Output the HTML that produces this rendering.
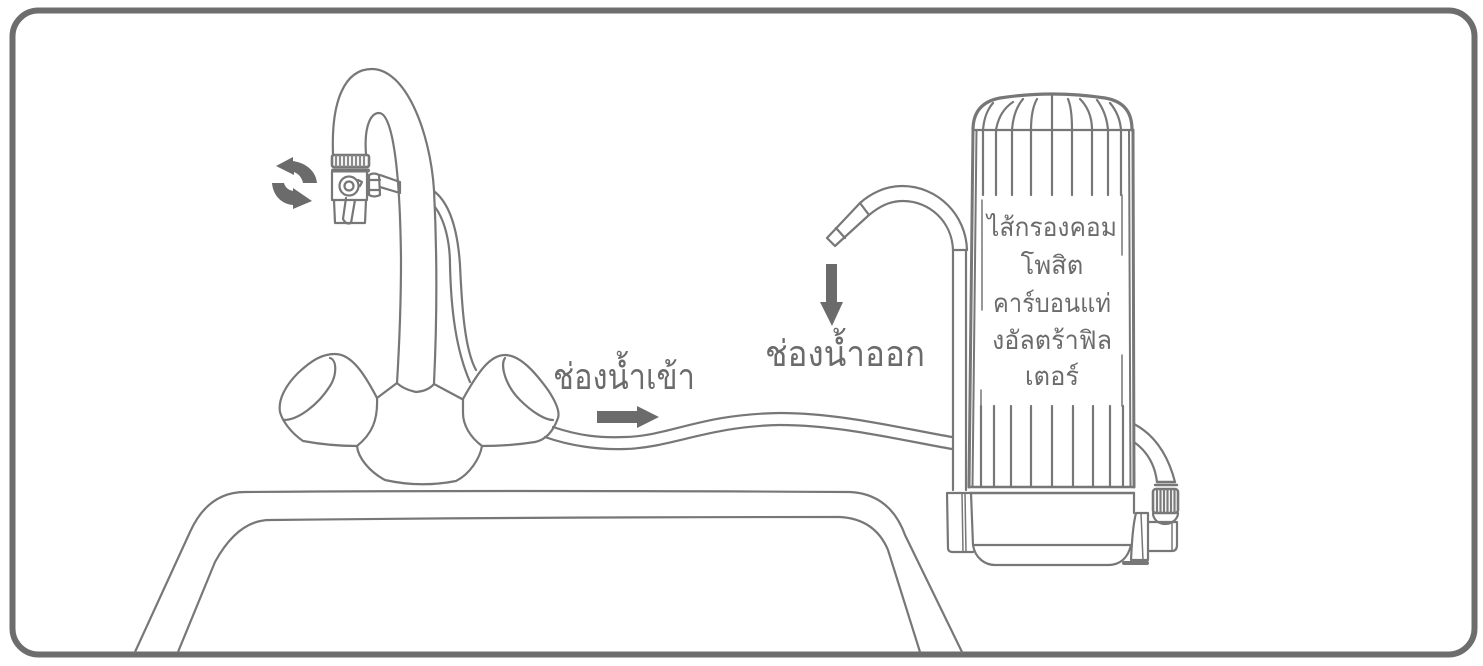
<!DOCTYPE html>
<html>
<head>
<meta charset="utf-8">
<style>
html,body{margin:0;padding:0;background:#fff;width:1483px;height:666px;overflow:hidden}
svg{display:block}
text{font-family:"Liberation Sans","Noto Sans CJK SC",sans-serif;fill:#6b6b6b;text-anchor:middle}
</style>
</head>
<body>
<svg width="1483" height="666" viewBox="0 0 1483 666" xmlns="http://www.w3.org/2000/svg">
<rect x="12.5" y="10.5" width="1462" height="644" rx="26" fill="#fff" stroke="#6d6d6d" stroke-width="6"/>
<g fill="none" stroke="#777" stroke-width="2.2" stroke-linejoin="round" stroke-linecap="round">
<!-- sink -->
<path d="M135 652L190 532Q208 492 245 492Q500 490 850 492Q890 494 905 535L962 652"/>
<path d="M178 652L215 562Q238 520 270 520Q550 517 840 517Q875 519 888 550L920 652"/>
<!-- hoses behind faucet -->
<path d="M435 192C452 206 458 235 460 265C462 310 465 350 476 370" />
<path d="M435 207C446 222 450 245 450 265C451 310 456 350 470 382"/>
<!-- faucet -->
<path d="M333 154C331 100 345 69 372 69C405 69 430 130 434 190C437 250 437 320 434 383"/>
<path d="M366 154C364 128 370 113 379 113C392 113 400 165 401 260C401 310 399 350 397 383"/>
<path d="M397 383Q403 389 416 392Q428 391 434 384L462 399"/>
<path d="M397 383L377 398"/>
<path d="M357 446C358 458 370 472 385 480Q420 488 456 481C470 474 480 458 482 446"/>
<!-- left knob -->
<path fill="#fff" d="M377 398C365 375 352 354 335 354C322 354 312 360 298 373C285 386 278 400 280 412C282 420 290 432 303 441Q330 446 357 446C372 434 378 420 377 398Z"/>
<path d="M330 358C337 360 337 375 330 386C318 405 298 420 284 420"/>
<!-- right knob -->
<path fill="#fff" d="M463 399C478 372 490 355 505 355C520 355 535 372 548 390C556 402 560 412 558 418C553 432 545 440 535 442Q510 446 482 446C470 437 463 425 463 413Z"/>
<path d="M505 358C500 365 505 385 520 400C532 412 545 420 553 420"/>
<!-- inlet hose -->
<path d="M553 427C580 436 600 438 625 437C670 436 700 414 780 413C840 413 900 428 952 437"/>
<path d="M545 437C570 446 600 450 625 449C670 448 710 426 780 425C840 425 900 440 952 449"/>
<!-- valve -->
<rect x="332" y="155" width="37" height="12" rx="2" stroke-width="2.6"/>
<path d="M336 156V166M340 156V166M344 156V166M348 156V166M352 156V166M356 156V166M360 156V166M364 156V166" stroke="#8a8a8a" stroke-width="2.2"/>
<path d="M333 170.5H368" stroke-width="4"/>
<path d="M332 172V200H367V172M332 200H367"/>
<path d="M334 200L335 223H365L366 200"/>
<circle cx="349" cy="186" r="9.5"/>
<circle cx="349" cy="186" r="4.5"/>
<path d="M358 180L362 182L360 186"/>
<path d="M346 198L343 219Q346 225 351 223L355 200"/>
<path d="M369 175Q374 172 379 175L380 195Q374 198 369 195ZM369 180H380M369 190H380"/>
<path d="M380 175L400 182V193L380 187"/>
<!-- filter spout -->
<path d="M967 250C966 215 938 186 902 186C885 186 870 194 860 203L827 238L835 246L869 215C880 206 890 201 903 201C930 201 952 222 953 250"/>
<path d="M860 203L869 215M836 228L845 238M953 250H967"/>
<path d="M953 250V490M966 250V490"/>
<!-- filter dome -->
<path d="M973 130C973 110 984 101 1000 98Q1052 90 1105 98C1122 101 1132 110 1132 130" stroke-width="3.2"/>
<path d="M973 130H1132"/>
<path d="M983 130C984 118 987 110 993 103M996 130C998 118 1004 108 1013 102M1012 130C1013 116 1017 106 1023 99M1031 130C1031 116 1033 106 1037 99M1052 130V95M1072 130C1072 116 1071 106 1068 99M1092 130C1092 116 1087 106 1080 99M1108 130C1107 118 1103 108 1097 100M1121 130C1120 118 1116 110 1110 103"/>
<path d="M983 130V195M996 130V195M1012 130V195M1031 130V195M1052 130V195M1072 130V195M1092 130V195M1108 130V195M1121 130V195"/>
<path d="M981 406V486M994 406V486M1011 406V486M1031 406V486M1052 406V486M1073 406V486M1093 406V486M1110 406V486M1123 406V486"/>
<path d="M973 130L969 487" stroke-width="3"/>
<path d="M976.5 130L972.5 487" stroke-width="2"/>
<path d="M1129 130L1130.5 487" stroke-width="2"/>
<path d="M1133 130L1134 487" stroke-width="3"/>
<path d="M982 200V310M981 390V406M1122 195V255M1122 355V406" stroke-width="1.5"/>
<!-- filter base -->
<path d="M970 487H1134M970 493H1134" stroke-width="2.4"/>
<path d="M971 493H947L948 548Q948 552 953 552H973"/>
<path d="M962 493L963 552M965 493L966 552" stroke-width="1.5"/>
<path d="M971 493L973 545C975 558 985 565 995 565H1108C1120 565 1128 558 1131 545"/>
<path d="M973 545H1130"/>
<path d="M1134 493V513"/>
<!-- right hose -->
<path d="M1134 424C1155 435 1168 455 1175 482"/>
<path d="M1134 442C1148 452 1155 465 1157 482"/>
<path d="M1157 482H1175M1155 485H1177" stroke-width="2.4"/>
<rect x="1153" y="489" width="25" height="24" rx="3" stroke-width="2.6"/>
<path d="M1157 490V512M1160.5 490V512M1164 490V512M1167.5 490V512M1171 490V512M1174.5 490V512" stroke="#7c7c7c" stroke-width="2.2"/>
<path d="M1153 513C1153 519 1158 524 1165 524C1172 524 1178 519 1178 513"/>
<path d="M1148 522H1177V545Q1177 551 1172 551H1148"/>
<path d="M1172 523V550" stroke-width="1.5"/>
<path d="M1136 513H1148V560H1131C1132 540 1133 525 1136 513Z" fill="#fff"/>
<path d="M1141 513L1143 560" stroke-width="1.5"/>
<path d="M1124 563H1147" stroke-width="4"/>
</g>
<g fill="#6b6b6b">
<path d="M597 411H637V406L659 417L637 428V423H597Z"/>
<path d="M826 264H837V302H843L832 326L820 302H826Z"/>
<path d="M276 166L293 157V161C307 163 316 172 317 183H303C302 178 299 174 294 172V175Z"/>
<path d="M272 183H284C285 187 288 190 293 191V188L312 201L293 209V205C281 204 273 195 272 183Z"/>
</g>
<text x="624" y="389" font-size="36" textLength="142" lengthAdjust="spacingAndGlyphs">ช่องน้ำเข้า</text>
<text x="845" y="366" font-size="36" textLength="160" lengthAdjust="spacingAndGlyphs">ช่องน้ำออก</text>
<g font-size="25.5">
<text x="1052" y="236" textLength="130" lengthAdjust="spacingAndGlyphs">ไส้กรองคอม</text>
<text x="1052" y="274">โพสิต</text>
<text x="1052" y="312" textLength="118" lengthAdjust="spacingAndGlyphs">คาร์บอนแท่</text>
<text x="1052" y="349" textLength="120" lengthAdjust="spacingAndGlyphs">งอัลตร้าฟิล</text>
<text x="1052" y="385">เตอร์</text>
</g>
</svg>
</body>
</html>
